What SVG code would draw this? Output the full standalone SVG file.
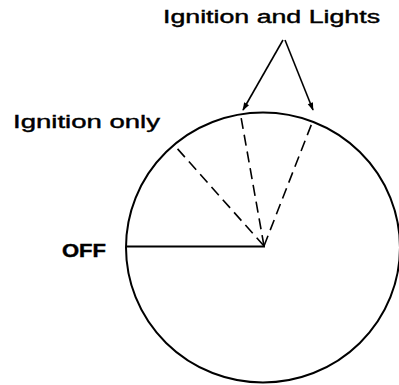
<svg xmlns="http://www.w3.org/2000/svg" width="399" height="385" viewBox="0 0 399 385">
<defs>
<style>
.t{font-family:"Liberation Sans",Arial,sans-serif;fill:#000;stroke:#000;stroke-width:0.4;font-size:18px}
.s{fill:none;stroke:#000;stroke-width:2}
.d{fill:none;stroke:#000;stroke-width:1.6;stroke-dasharray:11 6}
.a{fill:none;stroke:#000;stroke-width:1.6}
</style>
<marker id="ah" viewBox="0 0 10 10" refX="9" refY="5" markerWidth="10" markerHeight="8" markerUnits="userSpaceOnUse" orient="auto">
<path d="M0,1.5 L10,5 L0,8.5 Z" fill="#000"/>
</marker>
</defs>
<rect width="399" height="385" fill="#fff"/>
<g id="dial">
<ellipse class="s" cx="263" cy="247.5" rx="137" ry="135"/>
<line class="s" x1="126" y1="246.5" x2="265" y2="246.5"/>
</g>
<g id="connectors">
<line class="d" x1="264" y1="246" x2="175" y2="146"/>
<line class="d" x1="264" y1="246" x2="241" y2="117"/>
<line class="d" x1="264" y1="246" x2="312" y2="123"/>
<line class="a" x1="283" y1="40" x2="243" y2="110" marker-end="url(#ah)"/>
<line class="a" x1="285" y1="40" x2="313" y2="110" marker-end="url(#ah)"/>
</g>
<g id="label-lights"><text class="t" x="163" y="23" textLength="217" lengthAdjust="spacingAndGlyphs">Ignition and Lights</text></g>
<g id="label-ignition"><text class="t" x="13" y="128" font-size="19" textLength="147" lengthAdjust="spacingAndGlyphs">Ignition only</text></g>
<g id="label-off"><text class="t" x="62" y="257" font-size="20" font-weight="bold" textLength="44" lengthAdjust="spacingAndGlyphs">OFF</text></g>
</svg>
